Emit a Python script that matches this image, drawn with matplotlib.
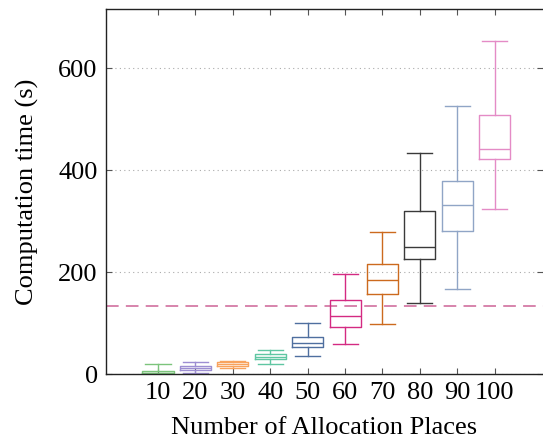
import matplotlib
matplotlib.use('Agg')
import matplotlib.pyplot as plt

# allocation places and box statistics (seconds)
places = [10, 20, 30, 40, 50, 60, 70, 80, 90, 100]
whislo = [0, 2, 12, 20, 35, 59, 98, 139, 166, 323]
q1 = [1, 8, 15, 29, 53, 92, 157, 226, 280, 421]
med = [2, 11, 19, 34, 60, 114, 185, 249, 331, 441]
q3 = [5, 15, 24, 40, 72, 145, 216, 320, 379, 508]
whishi = [20, 24, 26, 48, 100, 196, 278, 433, 525, 653]
colors = ["#7cc47c", "#9d8ed2", "#f8a35e", "#5fc6a2", "#4f6f9f",
          "#d42a82", "#cc6a1e", "#3a3a3a", "#90a5c6", "#e48bc6"]
threshold = 133

plt.rcParams['font.family'] = ['Liberation Serif', 'DejaVu Serif']
plt.rcParams['font.size'] = 19

fig = plt.figure(figsize=(5.43, 4.40), dpi=100)
ax = fig.add_axes([106 / 543, 66 / 440, 437 / 543, 365 / 440])

stats = []
for i in range(len(places)):
    stats.append({"whislo": whislo[i], "q1": q1[i], "med": med[i],
                  "q3": q3[i], "whishi": whishi[i], "fliers": []})

for i, s in enumerate(stats):
    c = colors[i]
    ax.bxp([s], positions=[places[i]], widths=8.3, capwidths=6.7,
           showfliers=False, manage_ticks=False,
           boxprops=dict(color=c, linewidth=1.0),
           medianprops=dict(color=c, linewidth=1.0),
           whiskerprops=dict(color=c, linewidth=1.0),
           capprops=dict(color=c, linewidth=1.0))

ax.axhline(threshold, color="#d47ba6", linestyle=(0, (7, 4)), linewidth=1.3, zorder=1)

ax.set_xlim(-3.9, 112.9)
ax.set_ylim(0, 716)
ax.set_xticks(places)
ax.set_xticklabels([str(p) for p in places])
ax.set_yticks([0, 200, 400, 600])
ax.yaxis.grid(True, linestyle=(0, (1, 3)), color="#aaaaaa", linewidth=0.8)
ax.set_axisbelow(True)
ax.tick_params(direction="in", top=True, right=True, length=4, width=0.8,
               color="#555555", pad=6)
for side in ["left", "bottom", "top"]:
    ax.spines[side].set_linewidth(1.0)
    ax.spines[side].set_color("#222222")
ax.spines["right"].set_visible(False)

ax.set_xlabel("Number of Allocation Places", labelpad=9)
ax.set_ylabel("Computation time (s)", labelpad=14)

fig.savefig("out.png", dpi=100)
